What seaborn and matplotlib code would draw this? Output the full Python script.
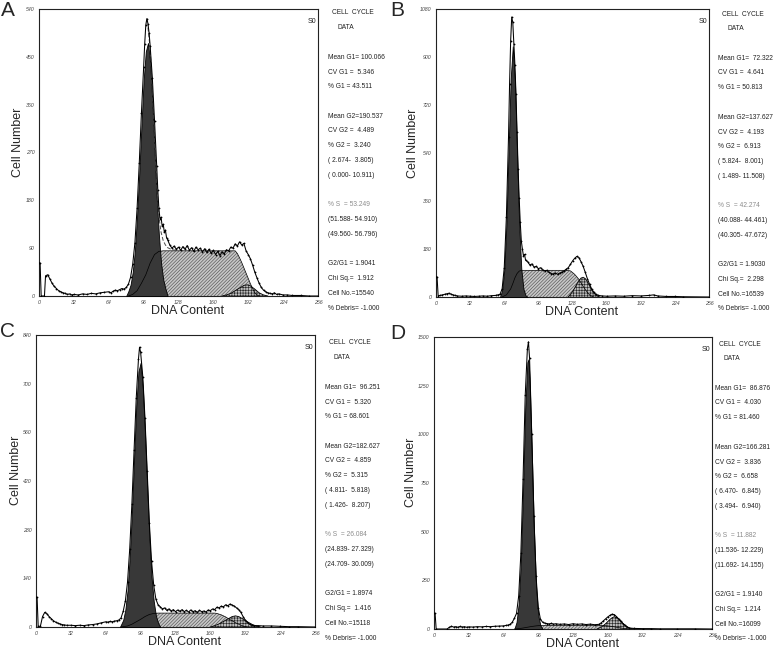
import matplotlib
matplotlib.use('Agg')
import matplotlib.pyplot as plt
import seaborn as sns

W, H = 778, 653
X_TICKS = [0, 32, 64, 96, 128, 160, 192, 224, 256]

# ---------------- panel A ----------------
A_CH = [0, 1, 2, 5, 6, 8, 10, 12, 14, 16,
        18, 20, 22, 24, 26, 28, 30, 32, 36, 40,
        44, 48, 52, 56, 60, 64, 66, 68, 70, 72,
        74, 76, 78, 80, 82, 84, 86, 88, 90, 92,
        94, 96, 97, 98, 99, 100, 101, 102, 104, 106,
        108, 109, 110, 111, 112, 113, 114, 115, 116, 117,
        118, 120, 122, 124, 126, 128, 130, 132, 134, 136,
        138, 140, 142, 144, 146, 148, 150, 152, 154, 156,
        158, 160, 162, 164, 166, 168, 170, 172, 174, 176,
        178, 180, 182, 184, 186, 188, 190, 192, 194, 196,
        198, 200, 202, 204, 206, 208, 210, 212, 214, 216,
        218, 220, 224, 228, 232, 240, 248, 256]
A_COUNT = [62, 62, 0, 0, 38, 40, 32, 24, 18, 14,
           10, 8, 6, 5, 3, 4, 2, 3, 2, 4,
           3, 5, 4, 6, 7, 8, 6, 9, 11, 10,
           12, 14, 13, 16, 22, 35, 60, 100, 165, 250,
           345, 430, 475, 510, 522, 512, 495, 470, 410, 330,
           245, 200, 165, 145, 148, 132, 135, 120, 124, 110,
           106, 96, 90, 94, 88, 92, 86, 93, 88, 95,
           86, 91, 84, 92, 87, 90, 83, 89, 82, 88,
           80, 86, 78, 84, 76, 83, 79, 87, 85, 92,
           90, 98, 94, 102, 96, 99, 85, 78, 70, 58,
           45, 34, 24, 16, 11, 8, 6, 5, 4, 6,
           3, 4, 2, 2, 1, 1, 0, 0]
A_G1_CH = [80, 82, 84, 86, 88, 90, 92, 94, 96, 98, 100, 102, 104, 106, 108, 110, 112, 114, 116, 118]
A_G1 = [0, 9, 21, 45, 85, 150, 230, 320, 405, 460, 476, 440, 365, 275, 185, 115, 62, 31, 14, 0]
A_S_CH = [82, 86, 90, 94, 98, 102, 106, 110, 114, 180, 182, 184, 186, 188, 190, 192, 194, 196, 198, 200, 202]
A_S = [0, 3, 10, 24, 40, 62, 78, 84, 85, 85, 80, 72, 63, 53, 43, 33, 23, 14, 6, 2, 0]
A_G2_CH = [168, 172, 176, 180, 184, 188, 191, 194, 198, 202, 206, 210]
A_G2 = [0, 2, 5, 10, 15, 20, 21, 19, 13, 6, 2, 0]
A_FIT_CH = [100, 102, 104, 106, 108, 110, 112, 114, 116, 118, 122, 126]
A_FIT = [505, 465, 390, 300, 215, 150, 120, 104, 96, 91, 87, 86]
A_YTICKS = [0, 90, 180, 270, 360, 450, 540]
A_STATS = ['Mean G1= 100.066', 'CV G1 =  5.346', '% G1 = 43.511',
           'Mean G2=190.537', 'CV G2 =  4.489', '% G2 =  3.240', '( 2.674-  3.805)', '( 0.000- 10.911)',
           '% S  = 53.249', '(51.588- 54.910)', '(49.560- 56.796)',
           'G2/G1 = 1.9041', 'Chi Sq.=  1.912', 'Cell No.=15540', '% Debris= -1.000']

# ---------------- panel B ----------------
B_CH = [0, 1, 2, 4, 6, 8, 10, 12, 14, 16,
        18, 20, 24, 28, 32, 36, 40, 44, 48, 52,
        56, 58, 60, 62, 64, 66, 68, 69, 70, 71,
        72, 73, 74, 75, 76, 77, 78, 79, 80, 81,
        82, 83, 84, 86, 88, 90, 92, 94, 96, 98,
        100, 102, 104, 106, 108, 110, 112, 114, 116, 118,
        120, 122, 124, 126, 128, 130, 132, 134, 136, 138,
        140, 142, 144, 146, 148, 150, 152, 156, 160, 168,
        176, 184, 192, 200, 204, 208, 216, 224, 232, 256]
B_COUNT = [75, 75, 5, 6, 8, 10, 12, 14, 11, 8,
           6, 4, 3, 4, 3, 2, 3, 4, 3, 5,
           6, 8, 10, 30, 110, 300, 600, 800, 960, 1050,
           1030, 950, 870, 760, 620, 480, 370, 280, 210, 180,
           155, 160, 138, 132, 120, 124, 112, 115, 106, 110,
           102, 98, 100, 92, 88, 86, 90, 85, 90, 92,
           98, 104, 110, 122, 135, 145, 152, 148, 132, 115,
           92, 68, 48, 30, 18, 10, 6, 4, 3, 4,
           3, 5, 4, 6, 8, 4, 2, 2, 1, 0]
B_G1_CH = [60, 62, 64, 66, 68, 70, 72, 74, 76, 78, 80, 82, 84, 86]
B_G1 = [0, 25, 100, 270, 540, 815, 940, 815, 540, 270, 105, 30, 6, 0]
B_S_CH = [62, 66, 70, 72, 74, 76, 78, 80, 120, 124, 126, 128, 130, 132, 134, 136, 138, 140, 142, 144, 146, 148]
B_S = [0, 8, 30, 50, 72, 88, 97, 100, 100, 99, 98, 92, 85, 76, 66, 53, 40, 28, 17, 8, 3, 0]
B_G2_CH = [124, 126, 128, 130, 132, 134, 136, 138, 140, 142, 144, 146, 148, 150, 152, 154]
B_G2 = [0, 10, 20, 33, 48, 62, 71, 74, 69, 57, 42, 27, 15, 7, 2, 0]
B_YTICKS = [0, 180, 360, 540, 720, 900, 1080]
B_STATS = ['Mean G1=  72.322', 'CV G1 =  4.641', '% G1 = 50.813',
           'Mean G2=137.627', 'CV G2 =  4.193', '% G2 =  6.913', '( 5.824-  8.001)', '( 1.489- 11.508)',
           '% S  = 42.274', '(40.088- 44.461)', '(40.305- 47.672)',
           'G2/G1 = 1.9030', 'Chi Sq.=  2.298', 'Cell No.=16539', '% Debris= -1.000']

# ---------------- panel C ----------------
C_CH = [0, 1, 2, 4, 6, 8, 10, 12, 14, 16,
        18, 20, 22, 24, 26, 28, 32, 36, 40, 44,
        48, 52, 56, 60, 64, 66, 68, 70, 72, 74,
        76, 78, 80, 82, 84, 86, 88, 90, 92, 94,
        95, 96, 98, 100, 102, 104, 106, 108, 110, 112,
        114, 116, 118, 120, 122, 124, 126, 128, 130, 132,
        134, 136, 138, 140, 142, 144, 146, 148, 150, 152,
        154, 156, 158, 160, 162, 164, 166, 168, 170, 172,
        174, 176, 178, 180, 182, 184, 186, 188, 190, 192,
        194, 196, 198, 200, 204, 208, 216, 224, 232, 240,
        256]
C_COUNT = [85, 85, 2, 2, 30, 42, 38, 30, 24, 18,
           14, 11, 9, 7, 6, 5, 5, 4, 5, 4,
           6, 7, 9, 12, 15, 14, 16, 15, 17, 18,
           20, 26, 45, 75, 130, 225, 355, 510, 660, 770,
           805, 790, 720, 600, 450, 300, 190, 120, 80, 64,
           58, 52, 55, 48, 52, 46, 50, 44, 49, 45,
           50, 44, 48, 43, 49, 44, 47, 42, 48, 44,
           46, 43, 49, 47, 52, 50, 57, 55, 60, 58,
           64, 61, 66, 63, 60, 55, 50, 42, 30, 20,
           13, 8, 5, 4, 4, 3, 3, 2, 1, 1,
           0]
C_G1_CH = [77, 80, 82, 84, 86, 88, 90, 92, 94, 96, 98, 100, 102, 104, 106, 108, 110, 112, 114]
C_G1 = [0, 20, 50, 105, 200, 330, 485, 635, 735, 760, 690, 560, 405, 260, 145, 75, 33, 12, 0]
C_S_CH = [78, 84, 88, 92, 96, 100, 104, 108, 112, 164, 166, 168, 170, 172, 174, 176, 178, 180, 182, 184,
          186, 188, 190, 192, 194]
C_S = [0, 3, 8, 15, 22, 30, 36, 39, 40, 40, 39, 37, 35, 32, 29, 25, 21, 18, 14, 11, 8, 5, 3, 1, 0]
C_G2_CH = [160, 164, 168, 172, 176, 180, 183, 186, 190, 194, 198, 202, 206]
C_G2 = [0, 4, 9, 16, 23, 30, 32, 30, 23, 15, 8, 3, 0]
C_YTICKS = [0, 140, 280, 420, 560, 700, 840]
C_STATS = ['Mean G1=  96.251', 'CV G1 =  5.320', '% G1 = 68.601',
           'Mean G2=182.627', 'CV G2 =  4.859', '% G2 =  5.315', '( 4.811-  5.818)', '( 1.426-  8.207)',
           '% S  = 26.084', '(24.839- 27.329)', '(24.709- 30.009)',
           'G2/G1 = 1.8974', 'Chi Sq.=  1.416', 'Cell No.=15118', '% Debris= -1.000']

# ---------------- panel D ----------------
D_CH = [0, 1, 2, 12, 14, 16, 18, 20, 22, 24,
        26, 28, 30, 32, 36, 40, 44, 48, 52, 56,
        60, 64, 66, 68, 70, 72, 74, 76, 78, 80,
        82, 84, 86, 87, 88, 90, 92, 94, 96, 98,
        100, 102, 104, 106, 108, 110, 112, 116, 120, 124,
        128, 132, 136, 140, 144, 148, 152, 154, 156, 158,
        160, 162, 164, 166, 168, 170, 172, 174, 176, 178,
        180, 184, 192, 200, 208, 224, 240, 256]
D_COUNT = [80, 80, 0, 0, 8, 14, 10, 12, 9, 13,
           10, 12, 9, 11, 10, 12, 11, 13, 12, 14,
           15, 16, 18, 20, 24, 34, 55, 80, 170, 390,
           770, 1200, 1440, 1475, 1390, 1000, 580, 270, 110, 50,
           35, 30, 28, 26, 29, 25, 27, 24, 26, 23,
           27, 24, 26, 23, 25, 22, 24, 32, 42, 52,
           62, 70, 76, 74, 64, 52, 40, 28, 18, 10,
           5, 3, 2, 2, 1, 1, 1, 0]
D_G1_CH = [74, 76, 78, 80, 82, 84, 86, 87, 88, 90, 92, 94, 96, 98, 100]
D_G1 = [0, 35, 130, 345, 710, 1130, 1370, 1385, 1290, 925, 515, 220, 70, 18, 0]
D_S_CH = [74, 78, 82, 86, 90, 94, 98, 156, 160, 164, 168, 172, 176, 180]
D_S = [0, 2, 5, 9, 13, 16, 18, 18, 16, 13, 9, 5, 2, 0]
D_G2_CH = [150, 152, 154, 156, 158, 160, 162, 164, 166, 168, 170, 172, 174, 176, 178, 180, 182, 184]
D_G2 = [0, 5, 10, 18, 27, 38, 49, 58, 63, 60, 52, 41, 29, 19, 11, 5, 2, 0]
D_YTICKS = [0, 250, 500, 750, 1000, 1250, 1500]
D_STATS = ['Mean G1=  86.876', 'CV G1 =  4.030', '% G1 = 81.460',
           'Mean G2=166.281', 'CV G2 =  3.836', '% G2 =  6.658', '( 6.470-  6.845)', '( 3.494-  6.940)',
           '% S  = 11.882', '(11.536- 12.229)', '(11.692- 14.155)',
           'G2/G1 = 1.9140', 'Chi Sq.=  1.214', 'Cell No.=16099', '% Debris= -1.000']

PANELS = [
    dict(letter='A', ch=A_CH, count=A_COUNT, g1=(A_G1_CH, A_G1), s=(A_S_CH, A_S), g2=(A_G2_CH, A_G2),
         fit=(A_FIT_CH, A_FIT), yticks=A_YTICKS, stats=A_STATS,
         box=(39, 9, 318, 296), letter_at=(1, 1), text_at=(328, 13), ylab_x=-0.052),
    dict(letter='B', ch=B_CH, count=B_COUNT, g1=(B_G1_CH, B_G1), s=(B_S_CH, B_S), g2=(B_G2_CH, B_G2),
         fit=None, yticks=B_YTICKS, stats=B_STATS,
         box=(436, 9, 709, 297), letter_at=(390, 1), text_at=(718, 14), ylab_x=-0.062),
    dict(letter='C', ch=C_CH, count=C_COUNT, g1=(C_G1_CH, C_G1), s=(C_S_CH, C_S), g2=(C_G2_CH, C_G2),
         fit=None, yticks=C_YTICKS, stats=C_STATS,
         box=(36, 335, 315, 627), letter_at=(0, 322), text_at=(325, 343), ylab_x=-0.05),
    dict(letter='D', ch=D_CH, count=D_COUNT, g1=(D_G1_CH, D_G1), s=(D_S_CH, D_S), g2=(D_G2_CH, D_G2),
         fit=None, yticks=D_YTICKS, stats=D_STATS,
         box=(434, 337, 712, 629), letter_at=(390, 324), text_at=(715, 344), ylab_x=-0.062),
]

# line slots of the stats block (blank slots between the groups)
STAT_SLOTS = [3, 4, 5, 7, 8, 9, 10, 11, 13, 14, 15, 17, 18, 19, 20]
LINE_STEP = 14.75


def _fig_xy(px, py):
    return px / W, 1 - py / H


def _plot_histogram(ax, p):
    s_ch, s_val = p['s']
    g1_ch, g1_val = p['g1']
    g2_ch, g2_val = p['g2']

    plt.rcParams['hatch.color'] = '#555555'
    ax.fill_between(s_ch, 0, s_val, facecolor='#c6c6c6', hatch='//////////',
                    edgecolor='#555555', linewidth=0, zorder=1)
    plt.rcParams['hatch.color'] = '#2a2a2a'
    ax.fill_between(g2_ch, 0, g2_val, facecolor='#bcbcbc', hatch='++++++',
                    edgecolor='#2a2a2a', linewidth=0, zorder=2)
    ax.plot(g2_ch, g2_val, color='black', lw=0.6, zorder=3)
    ax.fill_between(g1_ch, 0, g1_val, facecolor='#383838', edgecolor='black', linewidth=0.6, zorder=3)
    ax.plot(s_ch, s_val, color='black', lw=0.5, zorder=4)

    if p['fit'] is not None:
        sns.lineplot(x=p['fit'][0], y=p['fit'][1], ax=ax, color='#4a4a4a', lw=0.7,
                     linestyle=(0, (4, 2)), zorder=5)
    sns.lineplot(x=p['ch'], y=p['count'], ax=ax, color='black', lw=0.75,
                 marker='o', markersize=1.3, markeredgewidth=0, zorder=6)

    ax.set_xlim(0, 256)
    ax.set_ylim(0, p['yticks'][-1])
    ax.set_xticks(X_TICKS)
    ax.set_yticks(p['yticks'])
    ax.tick_params(labelsize=3.8, length=2, width=0.5, pad=1.2, labelcolor='#444444', direction='out')
    for lbl in ax.get_xticklabels() + ax.get_yticklabels():
        lbl.set_fontstyle('italic')
    for sp in ax.spines.values():
        sp.set_color('#222222')
        sp.set_linewidth(0.8)

    ax.set_ylabel('Cell Number', fontsize=9)
    ax.yaxis.set_label_coords(p['ylab_x'], 0.535)
    ax.set_xlabel('DNA Content', fontsize=9)
    ax.xaxis.set_label_coords(0.533, -0.032)
    ax.text(0.978, 0.957, 'S0', transform=ax.transAxes, ha='center', va='center',
            fontsize=5, color='#222222')


def _plot_stats(fig, p):
    x0, y0 = p['text_at']
    fig.text(*_fig_xy(x0 + 4, y0), 'CELL  CYCLE', fontsize=4.8, va='center', color='#222222')
    fig.text(*_fig_xy(x0 + 9, y0 + LINE_STEP), 'DATA', fontsize=4.8, va='center', color='#222222')
    for slot, line in zip(STAT_SLOTS, p['stats']):
        color = '#8c8c8c' if line.startswith('% S') else '#222222'
        fig.text(*_fig_xy(x0, y0 + slot * LINE_STEP), line, fontsize=4.8, va='center', color=color)


def main():
    sns.set_style('white')
    plt.rcParams['font.family'] = ['Liberation Sans', 'DejaVu Sans']
    plt.rcParams['hatch.linewidth'] = 0.45

    fig = plt.figure(figsize=(W / 100, H / 100), dpi=100)
    for p in PANELS:
        left, top, right, bottom = p['box']
        ax = fig.add_axes([left / W, 1 - bottom / H, (right - left) / W, (bottom - top) / H])
        _plot_histogram(ax, p)
        _plot_stats(fig, p)
        fig.text(*_fig_xy(*p['letter_at']), p['letter'], fontsize=15, va='top', ha='left')

    fig.savefig('out.png', dpi=100)


main()
